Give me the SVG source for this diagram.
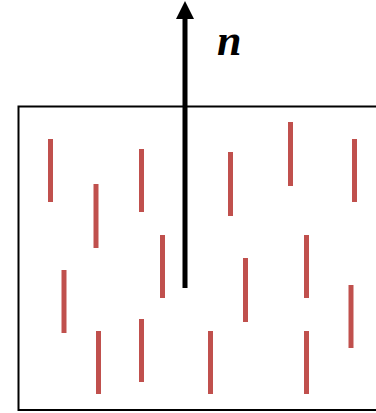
<svg xmlns="http://www.w3.org/2000/svg" width="376" height="413" viewBox="0 0 376 413">
<style>
.box{fill:none;stroke:#000;stroke-width:2}
.bar{stroke:#C0504D;stroke-width:5;fill:none}
.vec{stroke:#000;stroke-width:5;fill:none}
.lbl{font-family:"Liberation Serif",serif;font-weight:bold;font-style:italic;font-size:44px;fill:#000}
</style>
<defs>
<marker id="ah" markerUnits="userSpaceOnUse" markerWidth="18" markerHeight="18" viewBox="0 0 18 18" refX="0" refY="9" orient="auto">
<polygon points="0,0 18,9 0,18" fill="#000"/>
</marker>
</defs>
<g id="container"><rect class="box" x="18.5" y="106.5" width="370" height="303.5"/></g>
<g id="particles">
<line class="bar" x1="50.5" y1="139" x2="50.5" y2="202"/>
<line class="bar" x1="64" y1="270" x2="64" y2="333"/>
<line class="bar" x1="96" y1="184" x2="96" y2="248"/>
<line class="bar" x1="98.5" y1="331" x2="98.5" y2="394"/>
<line class="bar" x1="141.5" y1="149" x2="141.5" y2="212"/>
<line class="bar" x1="141.5" y1="319" x2="141.5" y2="382"/>
<line class="bar" x1="162.5" y1="235" x2="162.5" y2="298"/>
<line class="bar" x1="210.5" y1="331" x2="210.5" y2="394"/>
<line class="bar" x1="230.5" y1="152" x2="230.5" y2="216"/>
<line class="bar" x1="245.5" y1="258" x2="245.5" y2="322"/>
<line class="bar" x1="290.5" y1="122" x2="290.5" y2="186"/>
<line class="bar" x1="306.5" y1="235" x2="306.5" y2="298"/>
<line class="bar" x1="306.5" y1="331" x2="306.5" y2="394"/>
<line class="bar" x1="351" y1="285" x2="351" y2="348"/>
<line class="bar" x1="354.5" y1="139" x2="354.5" y2="202"/>
</g>
<g id="connectors">
<line class="vec" x1="185" y1="288" x2="185" y2="19" marker-end="url(#ah)"/>
</g>
<g id="label"><text class="lbl" x="217" y="55">n</text></g>
</svg>
